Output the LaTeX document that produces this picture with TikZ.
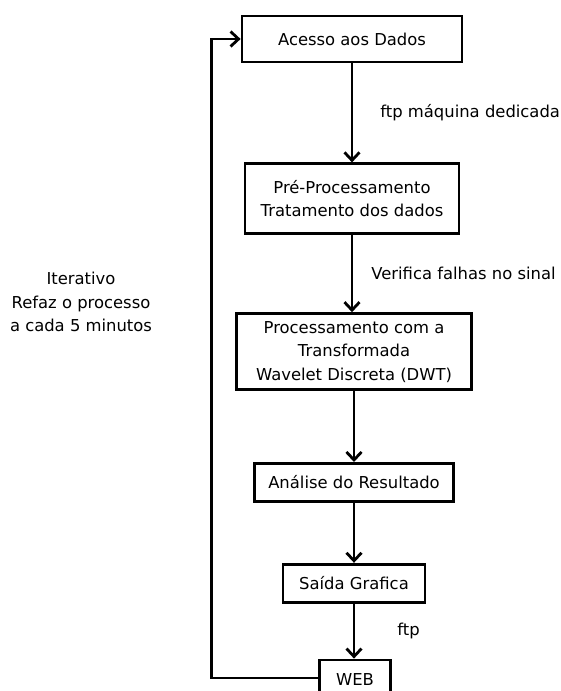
\documentclass[tikz,border=0pt]{standalone}
\usepackage{fontspec}
\setmainfont{DejaVu Sans}
\usetikzlibrary{positioning,arrows.meta}
\tikzset{ %
  ,>={Straight Barb[length=8pt,width=15pt]}
  ,every node/.style={font=\fontsize{16.4}{23.5}\selectfont}
  ,box/.style={draw, line width=2.8pt, align=center, inner sep=0}
  ,lbl/.style={inner sep=0, align=center}
  ,flow/.style={->, line width=2.8pt}
}
\begin{document}
\begin{tikzpicture}[x=1pt, y=1pt]
      \useasboundingbox (0,0) rectangle (560,-691);
      \node[box, minimum width=220pt, minimum height=46pt] (acesso) at (352,-39) {Acesso aos Dados};
      \node[box, minimum width=214pt, minimum height=70pt, below=99pt of acesso] (pre) {Pré-Processamento\\Tratamento dos dados};
      \node[box, minimum width=235pt, minimum height=76pt, below=77pt of pre, xshift=2pt] (proc) {Processamento com a\\Transformada\\Wavelet Discreta (DWT)};
      \node[box, minimum width=199pt, minimum height=38pt, below=71pt of proc] (analise) {Análise do Resultado};
      \node[box, minimum width=142pt, minimum height=38pt, below=60pt of analise] (saida) {Saída Grafica};
      \node[box, minimum width=71pt, minimum height=40pt, below=55pt of saida, xshift=1pt] (web) {WEB};
      \node[lbl] (iter) at (81,-302) {Iterativo\\Refaz o processo\\a cada 5 minutos};
      \coordinate[left=29pt of acesso] (loop);
      \draw[flow] (acesso) -- node[lbl, midway, right=27pt] (ftp1) {ftp máquina dedicada} (pre);
      \draw[flow] (pre) -- node[lbl, midway, right=18pt] (verif) {Verifica falhas no sinal} (proc.north -| pre.south);
      \draw[flow] (proc) -- (analise);
      \draw[flow] (analise) -- (saida);
      \draw[flow] (saida) -- node[lbl, midway, right=42pt] (ftp2) {ftp} (web.north -| saida.south);
      \draw[flow] ([yshift=2pt]web.west) -| (loop) -- (acesso.west);
    \end{tikzpicture}
\end{document}
